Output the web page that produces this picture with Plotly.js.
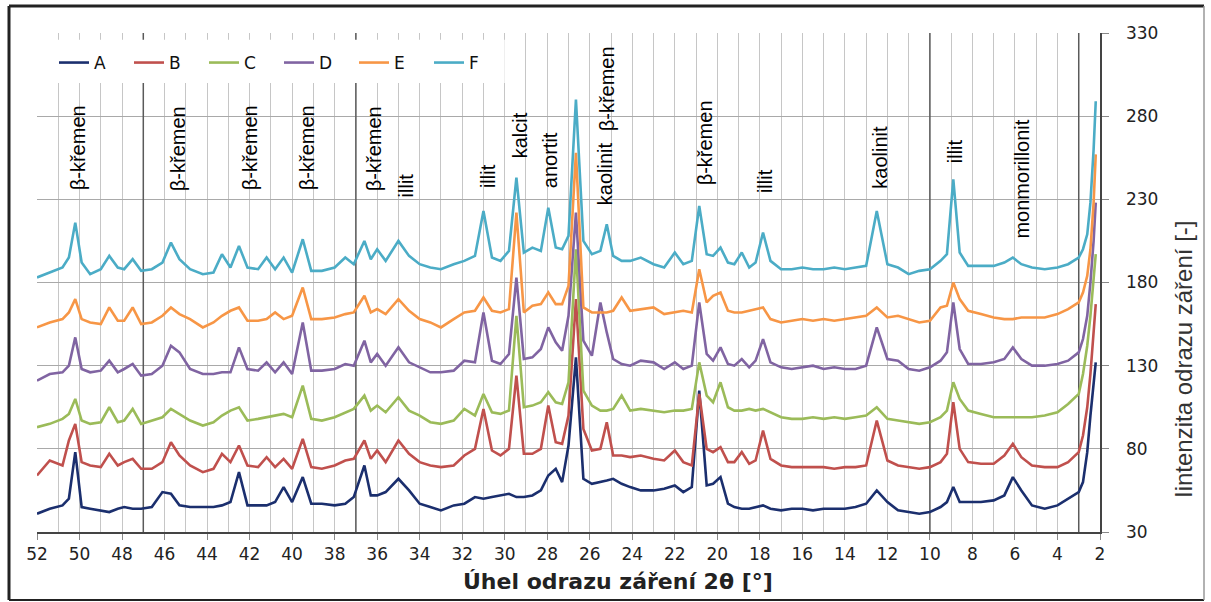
<!DOCTYPE html>
<html>
<head>
<meta charset="utf-8">
<script src="https://cdn.plot.ly/plotly-3.0.1.min.js"></script>
<style>html,body{margin:0;padding:0;background:#fff;}#chart{width:1211px;height:602px;}</style>
</head>
<body>
<div id="chart"></div>
<script>
// 2θ positions (degrees)
var theta = [52.0, 51.4, 50.8, 50.5, 50.2, 49.9, 49.5, 49.0, 48.6, 48.2,
 47.9, 47.5, 47.1, 46.6, 46.1, 45.7, 45.3, 44.8, 44.2, 43.7,
 43.3, 42.9, 42.5, 42.1, 41.6, 41.2, 40.8, 40.4, 40.0, 39.5,
 39.1, 38.6, 38.0, 37.5, 37.1, 36.6, 36.3, 36.0, 35.6, 35.0,
 34.5, 34.0, 33.5, 33.0, 32.4, 31.9, 31.4, 31.0, 30.6, 30.2,
 29.8, 29.45, 29.1, 28.7, 28.3, 27.95, 27.6, 27.3, 27.0, 26.65,
 26.3, 25.9, 25.5, 25.2, 24.9, 24.5, 24.1, 23.6, 23.0, 22.5,
 22.0, 21.6, 21.2, 20.85, 20.5, 20.2, 19.85, 19.5, 19.2, 18.85,
 18.5, 18.2, 17.85, 17.5, 17.0, 16.5, 16.0, 15.5, 15.0, 14.5,
 14.0, 13.5, 13.0, 12.5, 12.0, 11.5, 11.0, 10.5, 10.0, 9.5,
 9.2, 8.9, 8.6, 8.2, 7.6, 7.0, 6.5, 6.1, 5.7, 5.2,
 4.6, 4.0, 3.5, 3.0, 2.8, 2.6, 2.45, 2.3, 2.2];

var seriesA = [41, 44, 46, 50, 78, 45, 44, 43, 42, 44,
 45, 44, 44, 45, 54, 53, 46, 45, 45, 45,
 46, 48, 66, 46, 46, 46, 48, 57, 48, 63,
 47, 47, 46, 47, 51, 70, 52, 52, 54, 62,
 55, 47, 45, 43, 46, 47, 51, 50, 51, 52,
 53, 51, 51, 52, 55, 64, 68, 60, 82, 135,
 62, 59, 60, 61, 62, 59, 57, 55, 55, 56,
 58, 54, 57, 115, 58, 59, 63, 47, 45, 44,
 44, 45, 46, 44, 43, 44, 44, 43, 44, 44,
 44, 45, 47, 55, 48, 43, 42, 41, 42, 45,
 48, 57, 48, 48, 48, 49, 52, 63, 55, 46,
 44, 46, 50, 54, 60, 78, 100, 120, 132];

var seriesB = [64, 73, 70, 85, 95, 72, 70, 69, 77, 70,
 72, 74, 68, 68, 72, 84, 76, 70, 66, 68,
 77, 72, 82, 70, 69, 75, 69, 74, 68, 86,
 69, 68, 70, 73, 74, 85, 74, 79, 72, 85,
 77, 72, 70, 69, 70, 76, 80, 104, 79, 76,
 80, 124, 77, 77, 80, 106, 84, 83, 100, 170,
 92, 79, 80, 96, 76, 76, 75, 76, 74, 73,
 79, 72, 70, 113, 80, 78, 81, 72, 72, 78,
 71, 73, 91, 74, 70, 69, 69, 69, 69, 68,
 69, 69, 70, 97, 73, 70, 69, 68, 69, 72,
 77, 108, 80, 72, 71, 71, 76, 83, 75, 70,
 69, 69, 72, 78, 88, 105, 125, 150, 167];

var seriesC = [93, 95, 98, 101, 110, 97, 95, 96, 105, 96,
 97, 104, 95, 97, 99, 104, 101, 97, 94, 96,
 100, 103, 105, 97, 98, 99, 100, 101, 99, 118,
 98, 97, 99, 102, 104, 112, 103, 106, 102, 111,
 103, 100, 96, 95, 97, 104, 100, 113, 102, 101,
 103, 160, 105, 106, 108, 114, 108, 107, 120, 200,
 115, 106, 103, 103, 104, 112, 103, 104, 103, 102,
 103, 103, 104, 132, 112, 108, 120, 105, 103, 103,
 104, 103, 104, 102, 99, 98, 98, 99, 98, 99,
 98, 99, 100, 105, 98, 97, 96, 95, 96, 99,
 103, 120, 110, 103, 101, 99, 99, 99, 99, 99,
 100, 102, 107, 113, 125, 142, 160, 182, 197];

var seriesD = [121, 125, 126, 130, 147, 128, 126, 127, 133, 126,
 128, 131, 124, 125, 130, 142, 138, 128, 125, 125,
 126, 126, 141, 128, 127, 132, 126, 132, 125, 156,
 127, 127, 128, 131, 130, 145, 132, 137, 130, 141,
 132, 129, 126, 126, 127, 133, 132, 162, 133, 131,
 137, 183, 134, 135, 140, 153, 144, 139, 160, 222,
 145, 136, 168, 150, 134, 131, 130, 133, 132, 128,
 132, 128, 130, 168, 137, 133, 141, 131, 130, 134,
 129, 133, 146, 132, 129, 128, 129, 130, 128, 129,
 128, 128, 130, 153, 134, 133, 128, 127, 129, 133,
 138, 168, 140, 131, 131, 132, 134, 141, 134, 130,
 130, 131, 133, 138, 146, 160, 180, 205, 228];

var seriesE = [153, 156, 158, 162, 170, 158, 156, 155, 165, 157,
 157, 165, 155, 156, 160, 165, 161, 158, 153, 156,
 160, 163, 165, 157, 157, 158, 162, 158, 160, 177,
 158, 158, 159, 161, 162, 172, 162, 164, 161, 170,
 163, 158, 156, 153, 158, 162, 163, 171, 163, 162,
 164, 222, 162, 166, 167, 174, 167, 167, 178, 258,
 165, 162, 162, 162, 163, 171, 163, 164, 165, 161,
 162, 163, 162, 188, 168, 172, 174, 163, 162, 162,
 163, 164, 165, 158, 156, 157, 158, 157, 158, 157,
 158, 159, 160, 165, 159, 160, 158, 156, 157, 165,
 166, 180, 170, 163, 161, 159, 158, 158, 159, 159,
 159, 161, 164, 168, 174, 184, 200, 228, 257];

var seriesF = [183, 186, 189, 195, 216, 192, 185, 188, 196, 189,
 188, 194, 187, 188, 192, 204, 194, 188, 185, 186,
 197, 189, 202, 189, 188, 195, 188, 195, 186, 206,
 187, 187, 189, 195, 191, 205, 194, 200, 193, 205,
 196, 191, 189, 188, 191, 193, 196, 223, 195, 193,
 199, 243, 198, 201, 199, 225, 201, 200, 208, 290,
 205, 197, 199, 215, 196, 193, 193, 195, 191, 189,
 198, 191, 193, 226, 197, 196, 201, 192, 191, 198,
 189, 192, 210, 193, 188, 188, 189, 188, 188, 189,
 188, 189, 190, 223, 191, 189, 185, 187, 188, 193,
 197, 242, 198, 190, 190, 190, 192, 195, 191, 189,
 188, 189, 191, 195, 200, 209, 228, 260, 289];

var seriesNames = ["A", "B", "C", "D", "E", "F"];
var xTicks = [52, 50, 48, 46, 44, 42, 40, 38, 36, 34, 32, 30, 28, 26, 24, 22, 20, 18, 16, 14, 12, 10, 8, 6, 4, 2];
var yTicks = [30, 80, 130, 180, 230, 280, 330];
var peakLabels = ["β-křemen", "β-křemen", "β-křemen", "β-křemen", "β-křemen", "illit", "illit", "kalcit", "anortit", "kaolinit", "β-křemen", "β-křemen", "illit", "kaolinit", "illit", "monmorillonit"];
var peakTheta = [50.07, 45.37, 41.98, 39.3, 36.15, 34.64, 30.79, 29.28, 27.87, 25.28, 25.19, 20.58, 17.76, 12.35, 8.82, 5.67];
var xTitle = "Úhel odrazu záření 2θ [°]";
var yTitle = "Iintenzita odrazu záření [-]";

// layout helpers
var labelBottom = [234, 234, 234, 234, 234, 230, 235.5, 253.5, 235.5, 225, 270, 237.5, 232.5, 235.5, 250.5, 205.5];
var colors = ["#1b2f6e", "#c0504d", "#9bbb59", "#8064a2", "#f79646", "#4bacc6"];
var allSeries = [seriesA, seriesB, seriesC, seriesD, seriesE, seriesF];
var FONT = "Liberation Sans, Arial, sans-serif";
var FONT2 = "DejaVu Sans, Verdana, sans-serif";

var traces = allSeries.map(function (s, i) {
  return {x: theta, y: s, name: seriesNames[i], type: "scatter", mode: "lines",
          line: {color: colors[i], width: 2.6}, hoverinfo: "skip"};
});

// pixel -> paper helpers (plot area 37..1100 x, 33..532 y)
function px(x) { return (x - 37) / 1063; }
function py(y) { return (532 - y) / 499; }

var annotations = peakLabels.map(function (t, i) {
  return {text: t, x: peakTheta[i], y: labelBottom[i], xref: "x", yref: "y",
          xanchor: "center", yanchor: "bottom", textangle: -90, showarrow: false,
          font: {family: FONT, size: 20, color: "#000"}};
});
annotations.push({text: yTitle, x: px(1183), y: py(360), xref: "paper", yref: "paper",
  xanchor: "center", yanchor: "middle", textangle: -90, showarrow: false,
  font: {family: FONT, size: 24, color: "#333"}});
annotations.push({text: xTitle, x: px(618), y: py(581), xref: "paper", yref: "paper",
  xanchor: "center", yanchor: "middle", showarrow: false,
  font: {family: FONT2, size: 22, color: "#222", weight: 700}});

var shapes = [];
[47, 37, 10, 3].forEach(function (v) {
  shapes.push({type: "line", xref: "x", yref: "y", x0: v, x1: v, y0: 30, y1: 330,
               line: {color: "#5a5a5a", width: 1.5}, layer: "between"});
});
shapes.push({type: "rect", xref: "x", yref: "y", x0: 52, x1: 30, y0: 300, y1: 326,
             fillcolor: "#fff", line: {width: 0}, layer: "between"});
shapes.push({type: "line", xref: "paper", yref: "y", x0: 0, x1: 1, y0: 330, y1: 330,
             line: {color: "#fff", width: 2}, layer: "between"});
// outer frame
shapes.push({type: "line", xref: "paper", yref: "paper", x0: px(9), x1: px(1204), y0: py(6), y1: py(6), line: {color: "#222", width: 3}});
shapes.push({type: "line", xref: "paper", yref: "paper", x0: px(9), x1: px(9), y0: py(6), y1: py(600), line: {color: "#222", width: 3}});
shapes.push({type: "line", xref: "paper", yref: "paper", x0: px(9), x1: px(1204), y0: py(600), y1: py(600), line: {color: "#222", width: 2}});
shapes.push({type: "line", xref: "paper", yref: "paper", x0: px(1204), x1: px(1204), y0: py(6), y1: py(600), line: {color: "#999", width: 1.5}});

var layout = {
  width: 1211, height: 602,
  margin: {l: 37, r: 111, t: 33, b: 70},
  paper_bgcolor: "#fff", plot_bgcolor: "#fff",
  font: {family: FONT2, color: "#222"},
  showlegend: true,
  legend: {orientation: "h", x: px(54), y: py(63), xanchor: "left", yanchor: "middle",
           bgcolor: "rgba(0,0,0,0)", font: {family: FONT2, size: 17, color: "#111"},
           entrywidth: 30, entrywidthmode: "pixels", itemwidth: 30, traceorder: "normal"},
  xaxis: {range: [52, 2], tickmode: "array", tickvals: xTicks, ticktext: xTicks.map(String),
          ticks: "outside", ticklen: 6, tickcolor: "#888", showgrid: true, gridcolor: "#c6c6c6", gridwidth: 1,
          minor: {dtick: 1, tick0: 0, showgrid: true, gridcolor: "#c6c6c6", gridwidth: 1, ticks: ""},
          showline: true, linecolor: "#444", linewidth: 1.5, zeroline: false,
          tickfont: {family: FONT2, size: 17, color: "#222"}},
  yaxis: {range: [30, 330], side: "right", tickmode: "array", tickvals: yTicks, ticktext: yTicks.map(String),
          ticks: "outside", ticklen: 7, tickcolor: "#888", showgrid: true, gridcolor: "#a9a9a9", gridwidth: 1,
          showline: true, linecolor: "#444", linewidth: 1.5, zeroline: false, ticklabelstandoff: 14,
          tickfont: {family: FONT2, size: 17, color: "#222"}},
  annotations: annotations,
  shapes: shapes
};

Plotly.newPlot("chart", traces, layout, {staticPlot: true, displayModeBar: false});
</script>
</body>
</html>
